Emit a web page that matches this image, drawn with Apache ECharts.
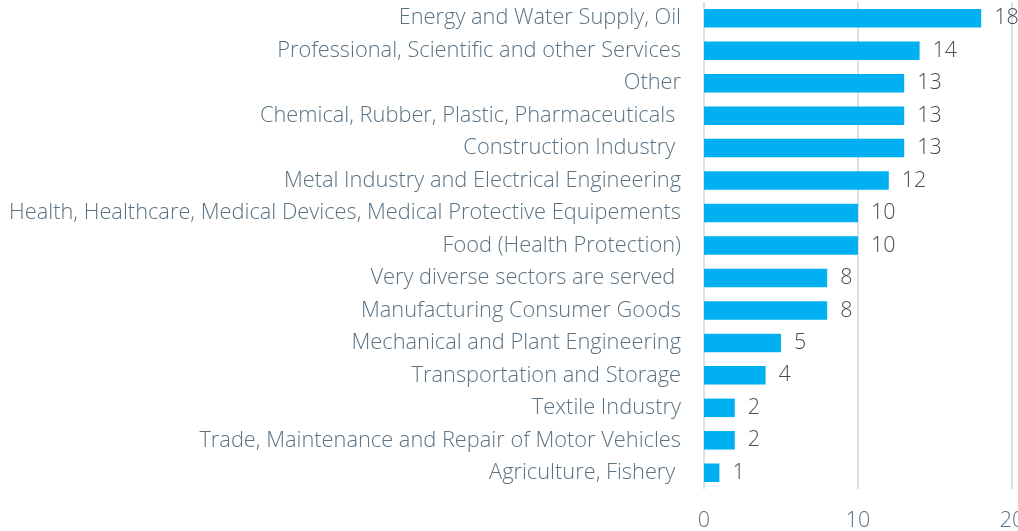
<!DOCTYPE html>
<html><head><meta charset="utf-8">
<script src="https://cdn.jsdelivr.net/npm/echarts@6/dist/echarts.min.js"></script>
<style>html,body{margin:0;padding:0;background:#fff}#c{width:1018px;height:531px}</style>
</head><body><div id="c"></div>
<script>
var categories = [
  "Energy and Water Supply, Oil",
  "Professional, Scientific and other Services",
  "Other",
  "Chemical, Rubber, Plastic, Pharmaceuticals ",
  "Construction Industry ",
  "Metal Industry and Electrical Engineering",
  "Health, Healthcare, Medical Devices, Medical Protective Equipements",
  "Food (Health Protection)",
  "Very diverse sectors are served ",
  "Manufacturing Consumer Goods",
  "Mechanical and Plant Engineering",
  "Transportation and Storage",
  "Textile Industry",
  "Trade, Maintenance and Repair of Motor Vehicles",
  "Agriculture, Fishery "
];
var values = [18, 14, 13, 13, 13, 12, 10, 10, 8, 8, 5, 4, 2, 2, 1];
var xTicks = [0, 10, 20];

var FONT = "'Open Sans'";
var chart = echarts.init(document.getElementById('c'));
chart.setOption({
  animation: false,
  grid: {left: 704, right: 6, top: 2, bottom: 42, containLabel: false, outerBoundsMode: 'none'},
  xAxis: {
    type: 'value', min: xTicks[0], max: xTicks[xTicks.length-1], interval: 10,
    axisLine: {show: false}, axisTick: {show: false},
    splitLine: {show: true, lineStyle: {color: '#d9e0e6', width: 2}},
    axisLabel: {color: '#5b7282', fontFamily: FONT, fontWeight: 300, fontSize: 21.5, margin: 21}
  },
  yAxis: {
    type: 'category', data: categories, inverse: true,
    axisLine: {show: false}, axisTick: {show: false},
    axisLabel: {color: '#5b7282', fontFamily: FONT, fontWeight: 300, fontSize: 21.8, margin: 23, padding: [3, 0, 0, 0]}
  },
  series: [{
    type: 'bar', data: values, barCategoryGap: '43%',
    itemStyle: {color: '#00b0f0'},
    label: {show: true, position: 'right', distance: 13, color: '#444c55', fontFamily: FONT, fontWeight: 300, fontSize: 21.5, padding: [3, 0, 0, 0]}
  }]
});
</script></body></html>
